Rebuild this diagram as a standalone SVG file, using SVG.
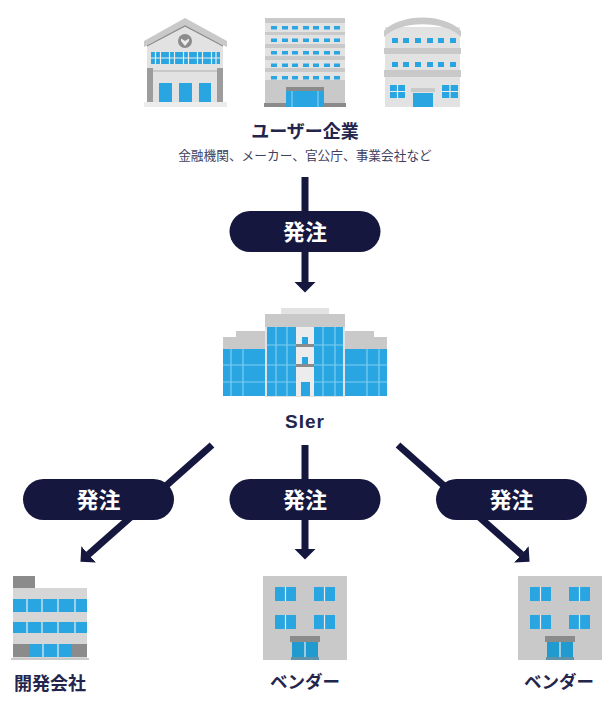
<svg xmlns="http://www.w3.org/2000/svg" width="615" height="701" viewBox="0 0 615 701">
<style>
text{font-family:"Noto Sans CJK JP","Liberation Sans",sans-serif;text-anchor:middle}
.t{font-weight:700;fill:#23254d}
.s{font-size:12.700px;fill:#3f4160}
.p{font-size:22px;font-weight:700;fill:#fff}
.pill{fill:#15173f}
.c{stroke:#15173f;stroke-width:7;fill:none}
.b{fill:#29a6e2}
.g{fill:#c9c9c9}
.l{fill:#e2e2e2}
.d{fill:#8b8b8b}
.w{fill:#ececec}
.gl{stroke:#7fcdf0;stroke-width:1.200;fill:none}
.wl{stroke:#ececec;stroke-width:1.200;fill:none}
</style>
<defs>
<marker id="ah" markerUnits="userSpaceOnUse" markerWidth="12" markerHeight="24" viewBox="0 0 12 24" refX="0.5" refY="12" orient="auto"><path d="M0 1L11 12L0 23Z" fill="#15173f"/></marker>
<g id="vendor">
<rect class="g" width="84" height="84"/>
<path class="b" d="M12 11h21v14H12zM51 11h21v14H51zM12 39h21v14H12zM51 39h21v14H51z"/>
<path class="wl" d="M22.500 11v14M61.500 11v14M22.500 39v14M61.500 39v14"/>
<rect class="d" x="27" y="60" width="30" height="6"/>
<rect x="29" y="66" width="26" height="15" fill="#219bcf"/>
<path class="wl" d="M42 66v15"/>
<rect x="28" y="81" width="28" height="3" fill="#5f93a8"/>
</g>
<g id="order">
<rect class="pill" x="-75.500" y="-20.500" width="151" height="41" rx="20.500"/>
<text class="p" y="8">発注</text>
</g>
</defs>
<rect width="615" height="701" fill="#fff"/>

<g id="connectors">
<path class="c" d="M305 177V282" marker-end="url(#ah)"/>
<path class="c" d="M212 445L88.300 554.700" marker-end="url(#ah)"/>
<path class="c" d="M305 445V549" marker-end="url(#ah)"/>
<path class="c" d="M398 445L521.700 554.700" marker-end="url(#ah)"/>
</g>

<g id="building-bank">
<rect class="l" x="147" y="42" width="76" height="60"/>
<path class="g" d="M185 18L227 41V47L185 27L144 47V41Z"/>
<path class="l" d="M185 27L223 45V50H147V45Z"/>
<path d="M147 46L185 26L223 46" fill="none" stroke="#8b8b8b" stroke-width="1.200"/>
<circle class="d" cx="185" cy="41" r="7"/>
<path class="w" d="M181 38.500L185 41L189 38.500V41L185 46L181 41Z"/>
<rect class="b" x="151" y="52" width="69" height="12"/>
<path class="wl" d="M151 58H220M155.500 52v12M160.500 52v12M169.500 52v12M174.500 52v12M183.500 52v12M188.500 52v12M197.500 52v12M202.500 52v12M211.500 52v12M216 52v12" stroke-width="1"/>
<rect class="d" x="147" y="68" width="6" height="34" opacity=".8"/>
<rect class="d" x="217" y="68" width="6" height="34" opacity=".8"/>
<rect class="g" x="153" y="70" width="64" height="2"/>
<path class="b" d="M159 83h13v19h-13zM179 83h13v19h-13zM199 83h12v19h-12z"/>
<rect x="144" y="102" width="83" height="5" fill="#ececec"/>
</g>

<g id="building-office">
<rect class="g" x="265" y="18" width="80" height="89"/>
<path class="l" d="M265 23h80v9h-80zM265 35h80v9h-80zM265 48h80v8h-80zM265 60h80v8h-80zM265 72h80v8h-80z"/>
<g class="b">
<path d="M271 26h6v3.500h-6zM282 26h6v3.500h-6zM292 26h6v3.500h-6zM303 26h6v3.500h-6zM313 26h6v3.500h-6zM324 26h6v3.500h-6zM334 26h6v3.500h-6z"/>
<path d="M271 38.500h6v3.500h-6zM282 38.500h6v3.500h-6zM292 38.500h6v3.500h-6zM303 38.500h6v3.500h-6zM313 38.500h6v3.500h-6zM324 38.500h6v3.500h-6zM334 38.500h6v3.500h-6z"/>
<path d="M271 51h6v3.500h-6zM282 51h6v3.500h-6zM292 51h6v3.500h-6zM303 51h6v3.500h-6zM313 51h6v3.500h-6zM324 51h6v3.500h-6zM334 51h6v3.500h-6z"/>
<path d="M271 63.500h6v3.500h-6zM282 63.500h6v3.500h-6zM292 63.500h6v3.500h-6zM303 63.500h6v3.500h-6zM313 63.500h6v3.500h-6zM324 63.500h6v3.500h-6zM334 63.500h6v3.500h-6z"/>
<path d="M271 76h6v3.500h-6zM282 76h6v3.500h-6zM292 76h6v3.500h-6zM303 76h6v3.500h-6zM313 76h6v3.500h-6zM324 76h6v3.500h-6zM334 76h6v3.500h-6z"/>
</g>
<rect class="d" x="264" y="103" width="82" height="4"/>
<rect class="d" x="286" y="87" width="38" height="4"/>
<rect class="b" x="286" y="91" width="38" height="16"/>
<path class="gl" d="M292 91v16M318 91v16"/>
</g>

<g id="building-hall">
<rect class="l" x="385" y="27" width="75" height="80"/>
<path class="g" d="M384 31C400 13 445 13 461 31V37C445 20 400 20 384 37Z"/>
<path class="g" d="M384 48h77v6h-77zM384 70h77v7h-77z"/>
<path class="b" d="M392 38h6v5h-6zM403 38h6v5h-6zM415 38h6v5h-6zM427 38h6v5h-6zM438 38h6v5h-6zM450 38h6v5h-6z"/>
<path class="b" d="M392 62h6v5h-6zM403 62h6v5h-6zM415 62h6v5h-6zM427 62h6v5h-6zM438 62h6v5h-6zM450 62h6v5h-6z"/>
<path class="b" d="M390 85h15v13h-15zM442 85h16v13h-16z"/>
<path class="wl" d="M390 91.500h15M397.500 85v13M442 91.500h16M450 85v13"/>
<rect class="g" x="411" y="88" width="24" height="4"/>
<rect class="b" x="413" y="93" width="20" height="14"/>
</g>

<g id="node-user">
<text class="t" x="305" y="138" font-size="18">ユーザー企業</text>
<text class="s" x="305" y="160">金融機関、メーカー、官公庁、事業会社など</text>
</g>

<g id="order-1"><use href="#order" x="305" y="231.500"/></g>

<g id="building-sier">
<rect class="l" x="281" y="308" width="48" height="6"/>
<rect class="g" x="265" y="314" width="80" height="13"/>
<path class="g" d="M236 331h29v18h-42v-12h13zM345 331h29v6h13v12h-42z"/>
<rect class="l" x="265" y="327" width="80" height="70"/>
<path class="b" d="M223 349h42v47h-42zM267 327h29v69h-29zM314 327h29v69h-29zM345 349h42v47h-42z"/>
<path class="gl" d="M231 349v47M243 349v47M276 327v69M287 327v69M323 327v69M335 327v69M367 349v47M379 349v47M223 365h42M223 382h42M267 365h29M267 382h29M314 365h29M314 382h29M345 365h42M345 382h42M267 345h29M314 345h29"/>
<rect class="w" x="296" y="327" width="18" height="69"/>
<path class="b" d="M302 337h6v7h-6zM302 357h6v7h-6zM301 382h9v14h-9z"/>
<path class="d" d="M296 344h18v3h-18zM296 364h18v3h-18z"/>
<text class="t" x="305" y="428" font-size="19" letter-spacing="1" style="font-family:'Liberation Sans',sans-serif">SIer</text>
</g>

<g id="order-2"><use href="#order" x="98.500" y="499.500"/></g>
<g id="order-3"><use href="#order" x="305" y="499.500"/></g>
<g id="order-4"><use href="#order" x="511.500" y="499.500"/></g>

<g id="node-dev">
<rect class="d" x="13" y="576" width="22" height="12"/>
<rect x="13" y="588" width="74" height="70" fill="#d6d6d6"/>
<rect class="b" x="13" y="599" width="74" height="13"/>
<rect class="b" x="13" y="622" width="74" height="11"/>
<rect class="d" x="13" y="644" width="74" height="13"/>
<rect class="b" x="29" y="644" width="43" height="13"/>
<path class="wl" d="M27 599v13M42 599v13M58 599v13M75 599v13M27 622v11M42 622v11M58 622v11M75 622v11M43 644v13M58 644v13" stroke-width="1"/>
<rect class="g" x="11" y="658" width="78" height="2"/>
<text class="t" x="50" y="690" font-size="18">開発会社</text>
</g>

<g id="node-vendor-1">
<use href="#vendor" x="263" y="576"/>
<text class="t" x="305" y="688" font-size="17.500">ベンダー</text>
</g>

<g id="node-vendor-2">
<use href="#vendor" x="518" y="576"/>
<text class="t" x="559" y="688" font-size="17.500">ベンダー</text>
</g>
</svg>
